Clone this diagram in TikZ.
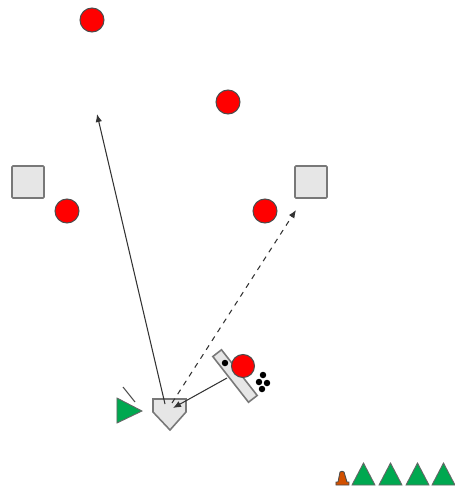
\documentclass[tikz,border=0pt]{standalone}
\usetikzlibrary{arrows.meta}
\definecolor{fieldred}{RGB}{255,0,0}
\definecolor{basegray}{RGB}{230,230,230}
\definecolor{rimgray}{RGB}{120,120,120}
\definecolor{conegreen}{RGB}{0,168,80}
\definecolor{coneorange}{RGB}{210,80,0}
\begin{document}
\begin{tikzpicture}[
  x=0.02cm, y=-0.02cm,
  fielder/.style={circle, fill=fieldred, draw=black!70, line width=0.6pt, minimum size=0.48cm, inner sep=0pt},
  bag/.style={draw=rimgray, fill=basegray, line width=0.9pt, minimum size=0.64cm, inner sep=0pt, rounded corners=0.5pt},
  ball/.style={circle, fill=black, minimum size=0.13cm, inner sep=0pt},
  run/.style={draw=black!80, line width=0.6pt, -{Latex[length=1.6mm,width=1.3mm]}},
  marker/.style={fill=conegreen, draw=black!60, line width=0.5pt}
]
\useasboundingbox (0,0) rectangle (455,488);
% bases and fielders
\node[bag] (first) at (311,182) {};
\node[bag] (third) at (28,182) {};
\node[fielder] (cf) at (92,20) {};
\node[fielder] (rf) at (228,102) {};
\node[fielder] (ss) at (67,211) {};
\node[fielder] (fb) at (265,211) {};
% home plate
\draw[draw=rimgray, fill=basegray, line width=0.9pt] (153,399) -- (186,399) -- (186,412) -- (170,430) -- (153,412) -- cycle;
\coordinate (home) at (170,412);
% batter's box, batter and balls
\node[draw=rimgray, fill=basegray, line width=0.9pt, minimum width=1.16cm, minimum height=0.22cm, inner sep=0pt, rotate=-52] (box) at (235,376) {};
\node[fielder, minimum size=0.46cm] (batter) at (243,366) {};
\node[ball] (tee) at (225,363) {};
\foreach \x/\y in {263/375,259/382,267/383,262/389}
  \node[ball] at (\x,\y) {};
% catcher
\draw[marker] (117,398) -- (142,411) -- (117,423) -- cycle;
\draw[black!70, line width=0.6pt] (123,387) -- (135,402);
% runs
\coordinate (deep) at (97,114);
\coordinate (gap) at (296,210);
\coordinate (throw) at (227,378);
\draw[run] (165,404) -- (deep);
\draw[run, dashed] (172,403) -- (gap);
\draw[run] (throw) -- (173,408);
% cone and markers
\draw[fill=coneorange, draw=black!70, line width=0.5pt] (340,472) to[bend left=40] (344,472) -- (347,482) -- (349,482) -- (349,485) -- (336,485) -- (336,482) -- (338,482) -- cycle;
\foreach \x in {352,379,406,432}
  \draw[marker] (\x,485) -- (\x+11.5,463) -- (\x+23,485) -- cycle;
\end{tikzpicture}
\end{document}
